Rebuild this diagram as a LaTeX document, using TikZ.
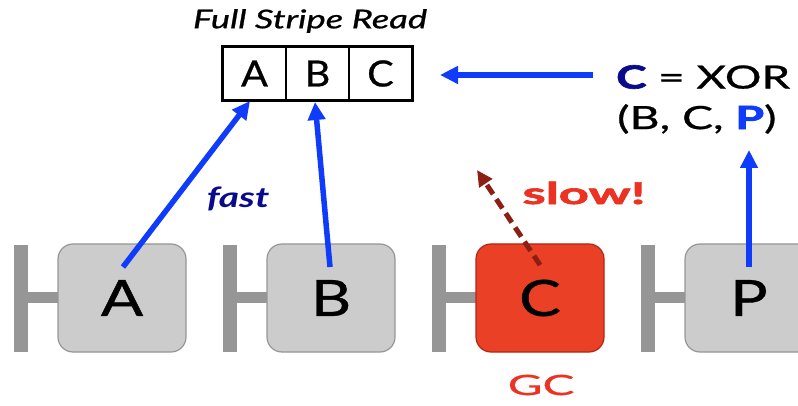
\documentclass[tikz,border=0pt]{standalone}
\usepackage{fontspec}
\usepackage{graphicx}
\setmainfont{Lato}[UprightFeatures={FakeBold=0.7}, ItalicFeatures={FakeBold=0.7}]
\newfontfamily\heavyfont{Lato}[BoldFeatures={FakeBold=2}]
\usetikzlibrary{arrows.meta}
\newcommand\wx[2]{\scalebox{#1}[1]{#2}}
\definecolor{arrblue}{RGB}{15,60,250}
\definecolor{darkblue}{RGB}{10,10,140}
\definecolor{boxgray}{RGB}{204,204,204}
\definecolor{boxedge}{RGB}{150,150,150}
\definecolor{barcol}{RGB}{150,150,150}
\definecolor{gcred}{RGB}{233,64,38}
\definecolor{gcedge}{RGB}{175,40,20}
\definecolor{txtred}{RGB}{235,50,35}
\definecolor{darkred}{RGB}{140,30,20}
\begin{document}
\begin{tikzpicture}[x=1pt,y=-1pt,
  disk/.style={draw=boxedge, line width=1.2pt, fill=boxgray, rounded corners=15pt,
    minimum width=128pt, minimum height=108pt, inner sep=0pt,
    font=\fontsize{50}{50}\selectfont},
  cell/.style={draw=black, line width=1.5pt, minimum width=63pt, minimum height=53pt,
    inner sep=0pt, font=\fontsize{36}{36}\selectfont},
  bluearrow/.style={draw=arrblue, line width=5.5pt, -{Triangle[length=18pt,width=17pt]}},
]
\useasboundingbox (0,0) rectangle (798,406);
\clip (0,0) rectangle (798,406);
% bars
\foreach \bx in {14,223,432,641}{
  \fill[barcol] (\bx,245) rectangle (\bx+14,352);
  \fill[barcol] (\bx+14,292) rectangle (\bx+46,303);
}
% disks
\node[disk] (boxA) at (122,298) {\wx{1.25}{A}};
\node[disk] (boxB) at (331,298) {\wx{1.25}{B}};
\node[disk, fill=gcred, draw=gcedge] (boxC) at (540,298) {\wx{1.25}{C}};
\node[disk] (boxP) at (749,298) {\wx{1.25}{P}};
% stripe
\node[cell] (cellA) at (254.5,73.5) {\wx{1.1}{A}};
\node[cell] (cellB) at (317.5,73.5) {\wx{1.1}{B}};
\node[cell] (cellC) at (380.5,73.5) {\wx{1.1}{C}};
\draw[line width=3pt] (cellA.north west) rectangle (cellC.south east);
\node[font=\fontsize{26}{26}\selectfont\itshape] (title) at (310,21) {\wx{1.4}{Full Stripe Read}};
% xor text
\node[anchor=west, font=\fontsize{32}{32}\selectfont, inner sep=0pt] (xor1) at (616,77)
  {\wx{1.43}{\textcolor{darkblue}{\heavyfont\bfseries C} = XOR}};
\node[anchor=west, font=\fontsize{32}{32}\selectfont, inner sep=0pt] (xor2) at (617,119)
  {\wx{1.45}{(B, C, \textcolor{arrblue}{\heavyfont\bfseries P})}};
% labels
\node[font=\fontsize{28}{28}\selectfont\itshape\bfseries, text=darkblue] (fast) at (238,199) {\wx{1.39}{fast}};
\node[font=\fontsize{30}{30}\selectfont\heavyfont\bfseries, text=txtred] (slow) at (584,193) {\wx{1.75}{slow!}};
\node[font=\fontsize{28}{28}\selectfont, text=txtred] (gc) at (541,385) {\wx{1.7}{GC}};
% connectors
\coordinate (sA) at (123,267);
\coordinate (tA) at (250,101);
\coordinate (sB) at (330,267);
\coordinate (tB) at (315,102);
\coordinate (sP) at (749,267);
\coordinate (tP) at (749,150);
\coordinate (sX) at (593,75);
\coordinate (tX) at (440,75);
\coordinate (sC) at (540,265);
\coordinate (tC) at (477,170);
\draw[bluearrow] (sA) -- (tA);
\draw[bluearrow] (sB) -- (tB);
\draw[bluearrow] (sP) -- (tP);
\draw[bluearrow] (sX) -- (tX);
\draw[draw=darkred, line width=5pt, dash pattern=on 11pt off 6pt,
  -{Triangle[length=16pt,width=15pt]}] (sC) -- (tC);
\end{tikzpicture}
\end{document}
